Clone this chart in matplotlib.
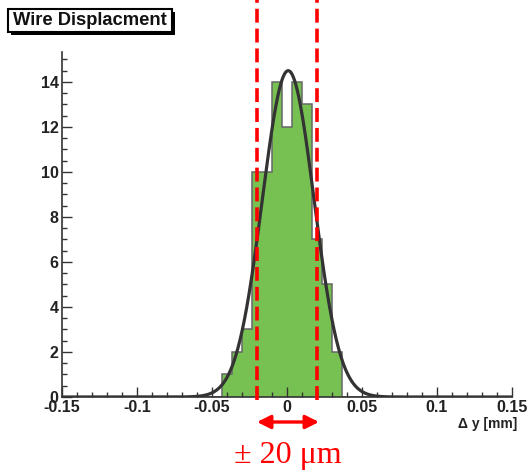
import numpy as np
import matplotlib
matplotlib.use("Agg")
import matplotlib.pyplot as plt
from matplotlib.patches import Rectangle, FancyArrowPatch

# Data
bin_lo, bin_hi, n_bins = -0.15, 0.15, 45
bin_centers_idx = [-6, -5, -4, -3, -2, -1, 0, 1, 2, 3, 4, 5]
counts = [1, 2, 3, 10, 10, 14, 12, 14, 13, 7, 5, 2]
fit_const, fit_mean, fit_sigma = 14.5, 0.0008, 0.0172
window = [-0.02, 0.02]
xticks = [-0.15, -0.1, -0.05, 0, 0.05, 0.1, 0.15]
xticklabels = ["-0.15", "-0.1", "-0.05", "0", "0.05", "0.1", "0.15"]
yticks = [0, 2, 4, 6, 8, 10, 12, 14]

plt.rcParams['lines.scale_dashes'] = False
fig = plt.figure(figsize=(5.31, 4.72), dpi=100)
ax = fig.add_axes([62/531, 1-397/472, (512-62)/531, (397-52)/472])

edges = np.linspace(bin_lo, bin_hi, n_bins + 1)
h = np.zeros(n_bins)
for k, c in zip(bin_centers_idx, counts):
    h[k + n_bins // 2] = c
ax.stairs(h, edges, fill=True, color='#77c052', zorder=1)
ax.stairs(h, edges, fill=False, color='#666666', lw=1.1, zorder=2)

xf = np.linspace(bin_lo, bin_hi, 800)
ax.plot(xf, fit_const * np.exp(-0.5 * ((xf - fit_mean) / fit_sigma) ** 2),
        color='#333333', lw=2.3, zorder=3)

ax.set_xlim(bin_lo, bin_hi)
ax.set_ylim(0, 15.33)
for s in ['top', 'right']:
    ax.spines[s].set_visible(False)
for s in ['left', 'bottom']:
    ax.spines[s].set_color('#333333')
    ax.spines[s].set_linewidth(1.2)

ax.set_xticks(xticks)
ax.set_xticklabels(xticklabels)
ax.set_xticks(np.arange(-0.15, 0.1501, 0.01), minor=True)
ax.set_yticks(yticks)
ax.set_yticks(np.arange(0, 15.3, 0.5), minor=True)
ax.tick_params(which='major', direction='in', length=7.2, width=1, color='#333333',
               labelsize=11.5, labelcolor='#222222', pad=2.5)
ax.tick_params(which='minor', direction='in', length=3.6, width=1, color='#333333')
for lab in ax.get_xticklabels() + ax.get_yticklabels():
    lab.set_fontweight('bold')
    lab.set_family('Liberation Sans')

ax.text(1.012, -0.078, "\u0394 y [mm]", transform=ax.transAxes, ha='right', va='center',
        fontsize=10, fontweight='bold', family='Liberation Sans', color='#222222')

# red dashed lines
for xv in window:
    ln, = ax.plot([xv, xv], [-0.13, 17.7], color='red', lw=2.6, clip_on=False, zorder=4)
    ln.set_dashes((10, 4.3))

# arrow
arr = FancyArrowPatch((257/531, 1-422/472), (319/531, 1-422/472),
                      transform=fig.transFigure, arrowstyle='<|-|>', mutation_scale=20,
                      color='red', lw=2.4, shrinkA=0, shrinkB=0)
fig.patches.append(arr)
fig.text(288/531, 1-455/472, "\u00b1 20 \u03bcm", ha='center', va='center',
         fontsize=23, color='red', family='Liberation Serif')

# title box
x0, y0, x1, y1 = 8, 9, 172, 32
fig.patches.append(Rectangle((x0/531 + 3/531, 1 - (y1+3)/472), (x1-x0)/531, (y1-y0)/472,
                             transform=fig.transFigure, facecolor='black', edgecolor='black', lw=0))
fig.patches.append(Rectangle((x0/531, 1 - y1/472), (x1-x0)/531, (y1-y0)/472,
                             transform=fig.transFigure, facecolor='white', edgecolor='black', lw=1.5))
fig.text((x0+x1)/2/531, 1-(y0+y1)/2/472, "Wire Displacment", ha='center', va='center',
         fontsize=13.2, fontweight='bold', family='Liberation Sans', color='#111111')

fig.savefig("out.png", dpi=100)
